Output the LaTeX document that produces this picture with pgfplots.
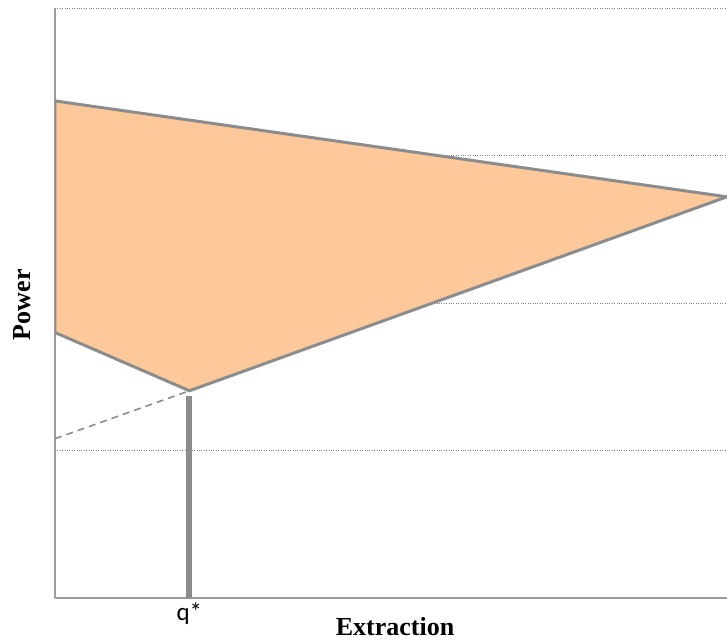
\documentclass[border=0pt]{standalone}
\usepackage{pgfplots}
\pgfplotsset{compat=1.18}
\usepackage{fontspec}
\setmainfont{Liberation Serif}
\newfontfamily\qfont{Carlito}
\definecolor{fillor}{RGB}{253,201,155}
\definecolor{edgegray}{RGB}{140,140,140}
\definecolor{axgray}{RGB}{155,155,155}
\begin{document}
\begin{tikzpicture}
\begin{axis}[
  at={(0,0)}, anchor=south west,
  scale only axis, width=672pt, height=590pt,
  xmin=0, xmax=10, ymin=0, ymax=4,
  axis lines=left,
  axis line style={draw=axgray, line width=1.5pt, -},
  ytick={1,2,3,4}, yticklabels={},
  ymajorgrids, grid style={dotted, draw=gray, line width=0.8pt},
  xtick={2}, xticklabels={{\qfont\fontsize{25}{27}\selectfont q*}},
  major tick length=0pt,
  xticklabel style={yshift=-1pt},
  xlabel={\textbf{Extraction}},
  xlabel style={font=\fontsize{26}{30}\selectfont, at={(axis description cs:0.506,0)}, anchor=center, yshift=-29pt},
  ylabel={\textbf{Power}},
  ylabel style={font=\fontsize{26}{30}\selectfont, at={(axis description cs:0,0.497)}, anchor=center, rotate=0, yshift=33pt},
]
\addplot[fill=fillor, draw=edgegray, line width=3pt, line join=miter] coordinates {(0,3.37) (10,2.72) (2,1.405) (0,1.80)} -- cycle;
\addplot[draw=edgegray, line width=1.6pt, dash pattern=on 7pt off 5pt] coordinates {(0,1.08) (2,1.405)};
\addplot[draw=edgegray, line width=6pt] coordinates {(2,0) (2,1.37)};
\end{axis}
\pgfresetboundingbox
\path (-55pt,-43pt) rectangle (672pt,598pt);
\end{tikzpicture}
\end{document}
